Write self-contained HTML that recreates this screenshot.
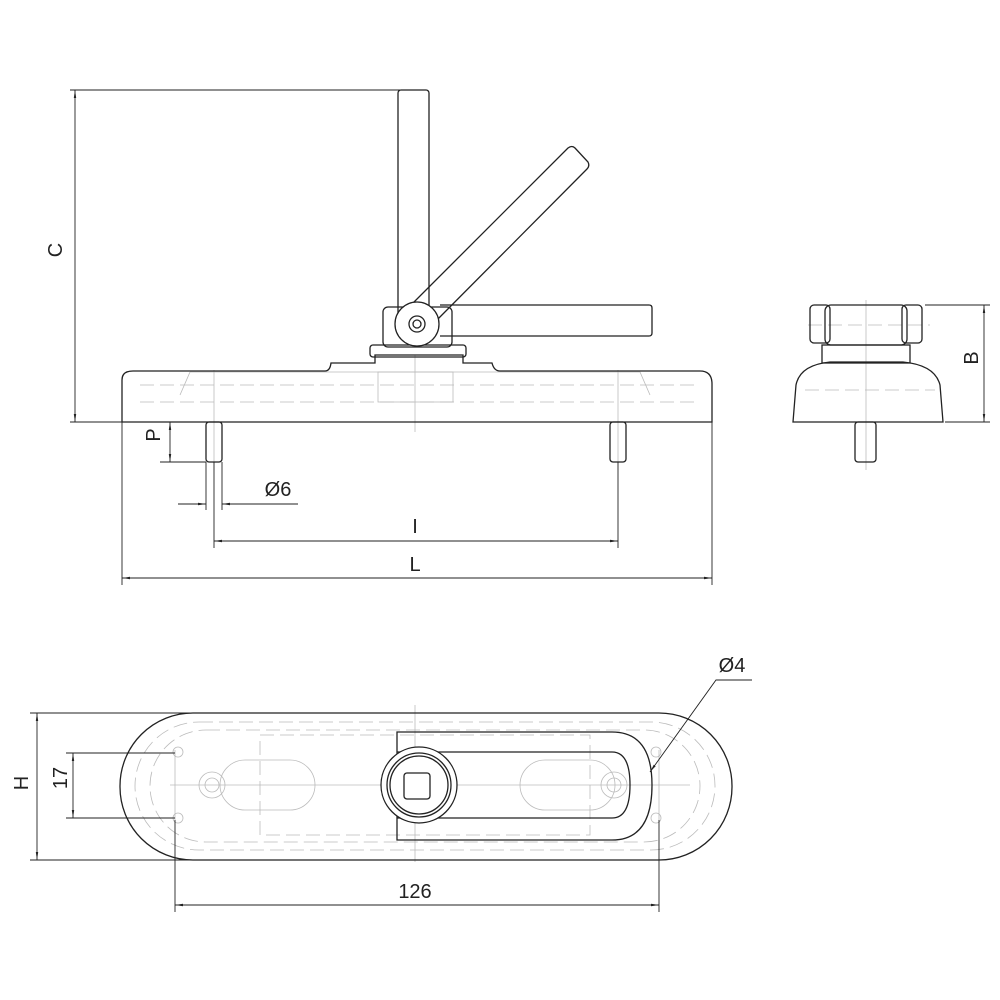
<!DOCTYPE html>
<html><head><style>html,body{margin:0;padding:0;background:#fff}svg{display:block}</style></head>
<body>
<svg width="1000" height="1000" viewBox="0 0 1000 1000" xmlns="http://www.w3.org/2000/svg" font-family="Liberation Sans, sans-serif">
<defs><marker id="a" viewBox="0 0 10 10" refX="10" refY="5" markerWidth="9" markerHeight="9" orient="auto-start-reverse"><path d="M0,3.5 L10,5 L0,6.5z" fill="#222"/></marker></defs>
<g fill="none" stroke="#bbb" stroke-width="0.8">
 <!-- faint internal lines front -->
 <path d="M140,402 H700 M140,385 H700" stroke-dasharray="14,6"/>
 <path d="M190,372 H640 L650,395 M190,372 L180,395" />
 <line x1="415" y1="355" x2="415" y2="432"/>
 <rect x="378" y="372" width="75" height="30"/>
 <line x1="214" y1="370" x2="214" y2="470"/><line x1="618" y1="370" x2="618" y2="470"/>
 <!-- top view faint -->
 <rect x="135" y="722" width="580" height="128" rx="64" stroke-dasharray="14,6"/>
 <rect x="150" y="730" width="550" height="112" rx="56" stroke-dasharray="14,6"/>
 <path d="M260,735 H590 V835 H260 Z" stroke-dasharray="14,6"/>
 <rect x="220" y="760" width="95" height="50" rx="25"/><rect x="520" y="760" width="95" height="50" rx="25"/>
 <line x1="175" y1="750" x2="175" y2="820"/><line x1="659" y1="750" x2="659" y2="820"/>
 <line x1="170" y1="785" x2="690" y2="785"/>
 <line x1="415" y1="705" x2="415" y2="862"/>
 <circle cx="178" cy="752" r="5"/><circle cx="178" cy="818" r="5"/><circle cx="656" cy="752" r="5"/><circle cx="656" cy="818" r="5"/>
 <circle cx="212" cy="785" r="13"/><circle cx="212" cy="785" r="7"/><circle cx="614" cy="785" r="13"/><circle cx="614" cy="785" r="7"/>
 <!-- side faint -->
 <line x1="866" y1="300" x2="866" y2="470"/>
 <path d="M808,325 H930 M805,390 H935" stroke-dasharray="14,6"/>
</g>
<g fill="none" stroke="#222" stroke-width="1.3">
 <!-- front base -->
 <path d="M122,422 V380 Q122,371 133,371 H325 Q330,371 331,363 H375 V355 H463 V363 H492 Q494,371 500,371 H700 Q712,371 712,384 V422 Z"/>
 <rect x="370" y="345" width="96" height="12" rx="3"/>
 <rect x="383" y="307" width="69" height="40" rx="5"/>
 <rect x="398" y="90" width="31" height="230" rx="3"/>
 <path d="M440,305 H649 Q652,305 652,308 V333 Q652,336 649,336 H440"/>
 <path d="M398,318 L568,148 Q572,145 575,148 L588,162 Q590,166 587,169 L430,327"/>
 <circle cx="417" cy="324" r="22" fill="#fff"/>
 <circle cx="417" cy="324" r="8"/><circle cx="417" cy="324" r="4"/>
 <rect x="206" y="422" width="16" height="40" rx="3"/>
 <rect x="610" y="422" width="16" height="40" rx="3"/>
 <!-- side -->
 <path d="M793,422 L796,385 Q800,365 830,362 H903 Q935,365 940,385 L943,422 Z"/>
 <rect x="822" y="345" width="88" height="18"/>
 <rect x="825" y="305" width="82" height="40" rx="6"/>
 <rect x="810" y="305" width="20" height="38" rx="4"/><rect x="902" y="305" width="20" height="38" rx="4"/>
 <rect x="855" y="422" width="21" height="40" rx="3"/>
 <!-- top view -->
 <rect x="120" y="713" width="612" height="147" rx="73"/>
 <path d="M397,732 H612 Q652,732 652,785 Q652,840 612,840 H397 Z"/>
 <path d="M397,752 H612 Q630,752 630,785 Q630,818 612,818 H397"/>
 <circle cx="419" cy="785" r="38" fill="#fff"/><circle cx="419" cy="785" r="32"/><circle cx="419" cy="785" r="29"/>
 <rect x="404" y="773" width="26" height="26" rx="3"/>
</g>
<!-- dimensions -->
<g stroke="#222" stroke-width="0.9" fill="none">
 <line x1="70" y1="90" x2="400" y2="90"/><line x1="70" y1="422" x2="122" y2="422"/>
 <line x1="75" y1="90" x2="75" y2="422" marker-start="url(#a)" marker-end="url(#a)"/>
 <line x1="160" y1="462" x2="206" y2="462"/>
 <line x1="170" y1="422" x2="170" y2="462" marker-start="url(#a)" marker-end="url(#a)"/>
 <line x1="206" y1="462" x2="206" y2="510"/><line x1="222" y1="462" x2="222" y2="510"/>
 <line x1="178" y1="504" x2="206" y2="504" marker-end="url(#a)"/><line x1="298" y1="504" x2="222" y2="504" marker-end="url(#a)"/>
 <line x1="214" y1="462" x2="214" y2="548"/><line x1="618" y1="462" x2="618" y2="548"/>
 <line x1="214" y1="541" x2="618" y2="541" marker-start="url(#a)" marker-end="url(#a)"/>
 <line x1="122" y1="422" x2="122" y2="585"/><line x1="712" y1="422" x2="712" y2="585"/>
 <line x1="122" y1="578" x2="712" y2="578" marker-start="url(#a)" marker-end="url(#a)"/>
 <line x1="925" y1="305" x2="990" y2="305"/><line x1="945" y1="422" x2="990" y2="422"/>
 <line x1="984" y1="305" x2="984" y2="422" marker-start="url(#a)" marker-end="url(#a)"/>
 <line x1="30" y1="713" x2="190" y2="713"/><line x1="30" y1="860" x2="190" y2="860"/>
 <line x1="37" y1="713" x2="37" y2="860" marker-start="url(#a)" marker-end="url(#a)"/>
 <line x1="66" y1="753" x2="175" y2="753"/><line x1="66" y1="818" x2="175" y2="818"/>
 <line x1="73" y1="753" x2="73" y2="818" marker-start="url(#a)" marker-end="url(#a)"/>
 <line x1="175" y1="820" x2="175" y2="912"/><line x1="659" y1="820" x2="659" y2="912"/>
 <line x1="175" y1="905" x2="659" y2="905" marker-start="url(#a)" marker-end="url(#a)"/>
 <path d="M752,680 H716 L650,772" marker-end="url(#a)"/>
</g>
<g fill="#222" font-size="20">
 <text x="70" y="258" text-anchor="middle" transform="rotate(-90 62 258)">C</text>
 <text x="160" y="449" text-anchor="middle" transform="rotate(-90 153 442)">P</text>
 <text x="278" y="496" text-anchor="middle">Ø6</text>
 <text x="415" y="533" text-anchor="middle">I</text>
 <text x="415" y="571" text-anchor="middle">L</text>
 <text x="978" y="372" text-anchor="middle" transform="rotate(-90 971 365)">B</text>
 <text x="28" y="797" text-anchor="middle" transform="rotate(-90 21 790)">H</text>
 <text x="67" y="792" text-anchor="middle" transform="rotate(-90 60 785)">17</text>
 <text x="415" y="898" text-anchor="middle">126</text>
 <text x="732" y="672" text-anchor="middle">Ø4</text>
</g>
</svg>
</body></html>
